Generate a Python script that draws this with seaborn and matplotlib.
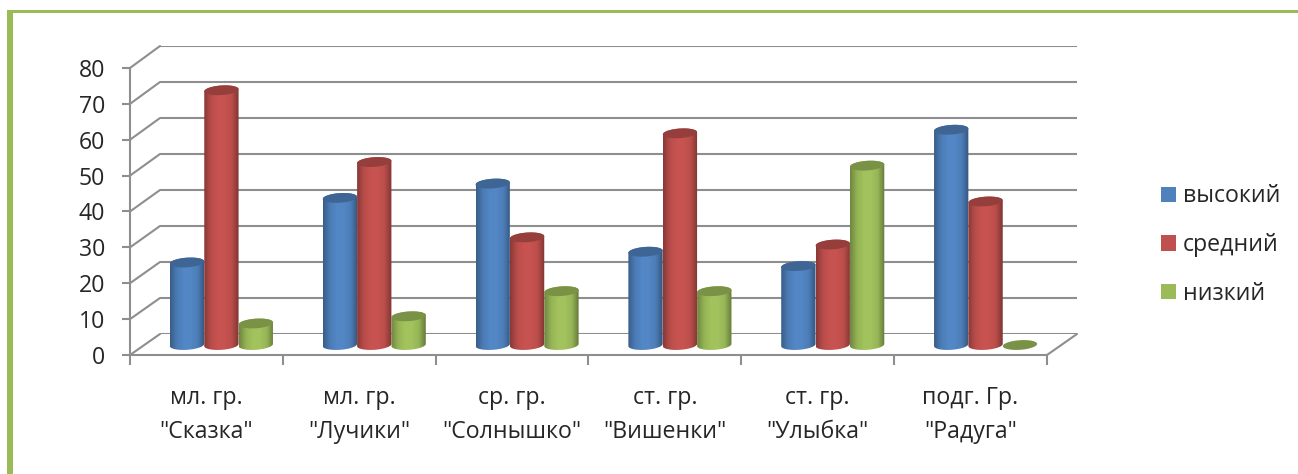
import numpy as np
import pandas as pd
import matplotlib
matplotlib.use('Agg')
import matplotlib.pyplot as plt
import seaborn as sns
from matplotlib.colors import LinearSegmentedColormap, to_rgb
from matplotlib.patches import ConnectionPatch, Patch, PathPatch, Rectangle
from matplotlib.path import Path
from matplotlib.transforms import Affine2D, IdentityTransform

groups = ['мл. гр.\n"Сказка"', 'мл. гр.\n"Лучики"', 'ср. гр.\n"Солнышко"',
          'ст. гр.\n"Вишенки"', 'ст. гр.\n"Улыбка"', 'подг. Гр.\n"Радуга"']
series = ['высокий', 'средний', 'низкий']
high = [23, 41, 45, 26, 22, 60]
mid = [71, 51, 30, 59, 28, 40]
low = [6, 8, 15, 15, 50, 0]
colors = ['#4f81bd', '#c0504d', '#9bbb59']
y_ticks = [0, 10, 20, 30, 40, 50, 60, 70, 80]

W, H = 1298, 474
GRAY = '#8e8e8e'
LW = 1.5

sns.set_style('white')
plt.rcParams['font.family'] = ['Open Sans', 'DejaVu Sans']

df = pd.DataFrame({'group': groups * 3,
                   'series': np.repeat(series, len(groups)),
                   'value': high + mid + low})

fig = plt.figure(figsize=(W / 100, H / 100), dpi=100, facecolor='white')


def px_axes(left, top, right, bottom, zorder):
    # axes placed by screenshot pixels
    a = fig.add_axes([left / W, 1 - bottom / H, (right - left) / W, (bottom - top) / H])
    a.set_zorder(zorder)
    a.patch.set_alpha(0)
    return a


# green frame of the slide
fig.add_artist(Rectangle((7 / W, 0), 6 / W, 1 - 10 / H, transform=fig.transFigure, color='#9bbb59', lw=0))
fig.add_artist(Rectangle((7 / W, 1 - 13 / H), 1 - 7 / W, 3 / H, transform=fig.transFigure, color='#9bbb59', lw=0))

# front plane has the axis, back wall the grid, bars stand half way in between
front = px_axes(130, 68, 1047, 355, 2)
wall = px_axes(160, 46, 1077, 334, 1)
bars = px_axes(145, 58, 1062, 345, 3)

for a in (front, wall, bars):
    a.set_xlim(-0.5, 5.5)
    a.set_ylim(0, 80)

wall.hlines(y_ticks, -0.5, 5.5, color=GRAY, lw=LW)
wall.axis('off')

for v in y_ticks:
    fig.add_artist(ConnectionPatch((-0.5, v), (-0.5, v), coordsA=front.transData, coordsB=wall.transData,
                                   color=GRAY, lw=LW))
fig.add_artist(ConnectionPatch((5.5, 0), (5.5, 0), coordsA=front.transData, coordsB=wall.transData,
                               color=GRAY, lw=LW))

sns.despine(ax=front)
for s in ('left', 'bottom'):
    front.spines[s].set_color(GRAY)
    front.spines[s].set_linewidth(LW)
front.set_yticks(y_ticks)
front.tick_params(axis='y', length=6, width=LW, color=GRAY, pad=12, labelsize=16.7, left=True)
front.set_xticks(np.arange(-0.5, 6, 1), labels=[])
front.tick_params(axis='x', which='major', length=7, width=LW, color=GRAY, bottom=True)
front.set_xticks(np.arange(6), labels=groups, minor=True)
front.tick_params(axis='x', which='minor', length=0, pad=22, labelsize=16.7)
for t in front.get_xticklabels(minor=True):
    t.set_linespacing(1.6)

sns.barplot(data=df, x='group', y='value', hue='series', hue_order=series, order=groups,
            palette=colors, width=0.675, gap=0, dodge=True, legend=False, ax=bars)
bars.set_xlim(-0.5, 5.5)
bars.set_ylim(0, 80)
bars.axis('off')


def shade(color):
    r = np.array(to_rgb(color))
    stops = [0.72, 0.96, 1.04, 1.04, 0.97, 0.66]
    return LinearSegmentedColormap.from_list('cyl', [np.clip(r * s, 0, 1) for s in stops])


def arc(cx, cy, rx, ry, start, stop):
    t = np.radians(np.linspace(start, stop, 40))
    pts = np.c_[rx * np.cos(t), ry * np.sin(t)]
    return Affine2D().rotate_deg(4).translate(cx, cy).transform(pts)


# turn the flat seaborn bars into cylinders
ident = IdentityTransform()
for container, color in zip(bars.containers, colors):
    cmap = shade(color)
    for rect in container:
        x0, w, h = rect.get_x(), rect.get_width(), rect.get_height()
        rect.set_visible(False)
        (px0, py0), (px1, py1) = bars.transData.transform([(x0, 0), (x0 + w, h)])
        cx, rx, ry = (px0 + px1) / 2, (px1 - px0) / 2, 4.8

        if h > 0:
            verts = np.vstack([arc(cx, py0, rx, ry, 180, 360), arc(cx, py1, rx, ry, 0, 180)])
            body = Path(np.vstack([verts, verts[0]]), closed=True)
            img = bars.imshow(np.linspace(0, 1, 64)[None, :], cmap=cmap, aspect='auto',
                              extent=(x0, x0 + w, -4, h + 4), zorder=3)
            img.set_clip_box(fig.bbox)
            img.set_clip_path(body, ident)

        cap = Path(arc(cx, py1, rx, ry, 0, 360), closed=True)
        cap_color = np.array(to_rgb(color)) * 0.78
        bars.add_patch(PathPatch(cap, transform=ident, facecolor=cap_color, edgecolor='none', zorder=3,
                                 clip_on=False))

bars.set_xlim(-0.5, 5.5)
bars.set_ylim(0, 80)

handles = [Patch(facecolor=c, edgecolor='none') for c in colors]
fig.legend(handles, series, loc='center left', bbox_to_anchor=(1161 / W, 1 - 245 / H), frameon=False,
           fontsize=16.7, handlelength=0.65, handleheight=0.65, handletextpad=0.3, labelspacing=1.06,
           borderpad=0, borderaxespad=0)

fig.savefig('out.png', dpi=100)
